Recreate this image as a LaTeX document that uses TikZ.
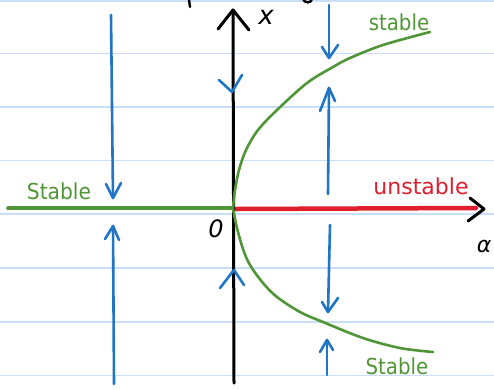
\documentclass[tikz,border=0pt]{standalone}
\usepackage{fontspec}
\setmainfont{DejaVu Sans}
\definecolor{ruled}{RGB}{200,222,250}
\definecolor{flowblue}{RGB}{32,118,196}
\definecolor{stgreen}{RGB}{80,150,55}
\definecolor{unred}{RGB}{225,30,45}
\tikzset{
  ruleline/.style={ruled, line width=1.8pt},
  axisline/.style={black, line width=3pt, line cap=round},
  flow/.style={flowblue, line width=2.6pt, line cap=round, line join=round},
  branch/.style={stgreen, line width=2.6pt, line cap=round, line join=round},
  lbl/.style={font=\fontsize{22}{22}\selectfont, inner sep=0pt},
}
\begin{document}
\begin{tikzpicture}[x=1pt,y=-1pt]
\useasboundingbox (0,0) rectangle (494,389);
\fill[white] (0,0) rectangle (494,389);
% ruled lines
\foreach \yy in {0.8,53.5,107,160.5,214,268,322,375.5}
  \draw[ruleline] (0,\yy) -- (494,\yy);
% coordinates
\coordinate (O) at (233,208);
\coordinate (xtop) at (233,10);
\coordinate (xbot) at (234,383);
\coordinate (aleft) at (8,208);
\coordinate (aright) at (484,209);
% left stable branch (green over black)
\draw[axisline] (aleft) -- (O);
\draw[stgreen, line width=3.4pt, line cap=round] (aleft) -- (O);
% red unstable branch
\draw[unred, line width=4.5pt, line cap=round] (236,209) -- (476,208);
% horizontal arrow head
\draw[axisline, line join=round] (470,198) -- (aright) -- (468,221);
% vertical axis
\draw[axisline] (xbot) -- (xtop);
\draw[axisline, line join=round] (218,29) -- (xtop) -- (249,30);
% parabola branches
\draw[branch] plot[smooth, tension=0.55] coordinates {(233,208) (235,190) (239,170) (246,150) (258,130) (277,110) (307,83) (333,67) (350,58) (383,45) (430,32)};
\draw[branch] plot[smooth, tension=0.55] coordinates {(233,209) (237,228) (243,249) (250,265) (263,283) (277,297) (300,312) (323,322) (363,338) (400,348) (433,352)};
% blue flow arrows, left column
\draw[flow] (111,15) -- (113,198);
\draw[flow] (106,184) -- (113,198) -- (121,183);
\draw[flow] (114,384) -- (113,226);
\draw[flow] (105,239) -- (113,226) -- (119,240);
% on x axis
\draw[flow] (219,80) -- (232,92) -- (242,75);
\draw[flow] (220,288) -- (234,270) -- (244,285);
% right column
\draw[flow] (329,5) -- (329,58);
\draw[flow] (322,47) -- (329,58) -- (338,45);
\draw[flow] (328,194) -- (329,88);
\draw[flow] (320,111) -- (329,88) -- (335,101);
\draw[flow] (330,225) -- (328,312);
\draw[flow] (322,302) -- (328,312) -- (338,298);
\draw[flow] (327,375) -- (327,340);
\draw[flow] (320,352) -- (327,340) -- (333,350);
% fragments at top edge
\draw[black, line width=2.4pt, line cap=round] (189,0) -- (190,7);
\draw[black, line width=2.4pt, line cap=round] (303,-1) .. controls (304,3) and (311,4) .. (312,-1);
% labels
\node[lbl, text=stgreen, xscale=0.92] (s1) at (59,191) {Stable};
\node[lbl, text=unred] (u1) at (421,186) {unstable};
\node[lbl, text=stgreen, xscale=0.9] (s2) at (399,22) {stable};
\node[lbl, text=stgreen, xscale=0.9] (s3) at (397,366) {Stable};
\node[lbl, font=\fontsize{26}{26}\selectfont\itshape] (xl) at (266,17) {x};
\node[lbl, font=\fontsize{24}{24}\selectfont\itshape] (zl) at (216,229) {0};
\node[lbl, font=\fontsize{22}{22}\selectfont\itshape] (al) at (484,246) {α};
\end{tikzpicture}
\end{document}
